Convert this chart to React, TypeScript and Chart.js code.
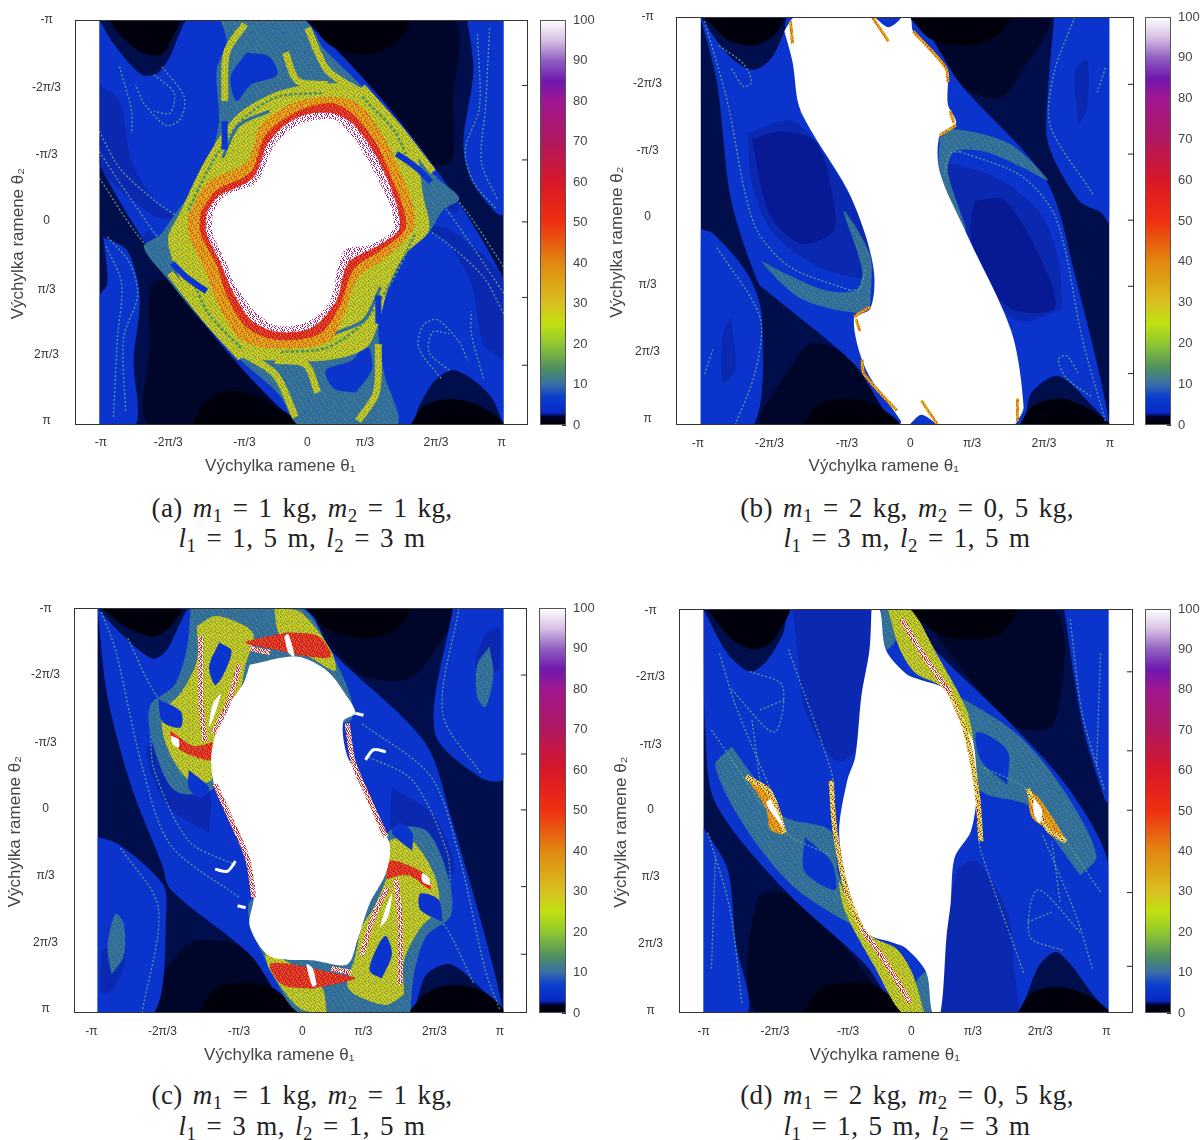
import React, { useEffect, useRef } from "react";
import { Chart, registerables } from "chart.js";
Chart.register(...registerables);

type P = number[][];
const xLabels = ["-π", "-2π/3", "-π/3", "0", "π/3", "2π/3", "π"];
const yLabels = ["-π", "-2π/3", "-π/3", "0", "π/3", "2π/3", "π"];
const colorbarTicks = [0, 10, 20, 30, 40, 50, 60, 70, 80, 90, 100];
const colorbarRange = [0, 100];
const colorStops: [number, string][] = [[0, "#000000"], [2, "#000024"], [3, "#0828c8"], [7, "#0a40cc"], [10, "#3a6ea8"], [14, "#4f9060"], [20, "#90c830"], [25, "#c0e010"], [30, "#d8c020"], [40, "#e08810"], [50, "#f03010"], [60, "#d81828"], [70, "#b01860"], [80, "#a01890"], [85, "#7018b0"], [90, "#9060c0"], [95, "#d8c0e4"], [100, "#ffffff"]];
const speckleRows = ["01020103010", "20100210302", "00310020101", "12002301020", "01030102003", "30200120100", "02010003021", "10023010200", "00120201030"];

const column: P = [[-100, -100], [100, -100], [100, 100], [-100, 100]];
const outside: P[] = [[[-120, -110], [-100, -110], [-100, 110], [-120, 110]], [[100, -110], [120, -110], [120, 110], [100, 110]]];

// ---------- panel (a) : theta1, theta2 in percent of pi
const aDark: P[] = [[[5, -100], [30, -70], [62, -30], [74, -30], [75, -60], [75, -100]], [[-5, 100], [-30, 70], [-62, 30], [-74, 30], [-75, 60], [-75, 100]]];
const aBlue: P[] = [
  [[-100, -100], [-92, -87], [-79, -73], [-71, -74], [-65, -82], [-60, -94], [-56, -100], [1, -100], [100, 28], [100, 100], [93, 85], [76, 73], [66, 78], [58, 91], [54, 100], [-1, 100], [-100, -29]],
  [[-98, 7], [-86, 14], [-80, 37], [-83, 68], [-82, 100], [-100, 100], [-100, 37], [-96, 30]],
  [[82, -100], [85, -75], [80, -39], [84, -21], [96, -5], [100, -4], [100, -100]],
];
const aMid: P[] = [
  [[-100, -68], [-90, -60], [-84, -30], [-72, -10], [-60, -2], [-74, -4], [-100, -29]],
  [[100, 68], [90, 60], [84, 30], [72, 10], [60, 2], [74, 4], [100, 29]],
  [[-76, 4], [-58, 20], [-50, 34], [-62, 24], [-78, 8]], [[76, -4], [58, -20], [50, -34], [62, -24], [78, -8]],
];
const aBlack: P[] = [
  [[-95, -100], [-90, -93], [-79, -84], [-69, -83], [-64, -91], [-61, -100]],
  [[3, -100], [15, -87], [34, -83], [47, -89], [53, -100]],
  [[-54, 100], [-48, 89], [-35, 83], [-20, 87], [-1, 100]],
  [[54, 100], [60, 91], [74, 87], [89, 91], [100, 100]],
];
const aLines: P[] = [
  [[-90, -77], [-84, -55], [-84, -44]], [[-69, -77], [-58, -62], [-60, -51], [-67, -48], [-78, -59], [-82, -68]], [[-73, -73], [-63, -64], [-65, -54], [-73, -55]],
  [[-100, -45], [-90, -27], [-73, -11], [-60, -2]], [[87, -93], [88, -57], [81, -36], [85, -20], [96, -7]], [[93, -96], [91, -57], [89, -30], [97, -11]],
  [[-87, 93], [-88, 57], [-81, 36], [-85, 20], [-96, 7]], [[-93, 96], [-91, 57], [-89, 30], [-97, 11]],
  [[90, 77], [84, 55], [84, 44]], [[69, 77], [58, 62], [60, 51], [67, 48], [78, 59], [82, 68]], [[73, 73], [63, 64], [65, 54], [73, 55]], [[100, 45], [90, 27], [73, 11], [60, 2]],
  [[66, -23], [82, -5], [100, 22]], [[-66, 23], [-82, 5], [-100, -22]], [[-100, -35], [-86, -14], [-72, 6], [-54, 28]], [[100, 35], [86, 14], [72, -6], [54, -28]],
];
const aChaos: P = [[-40, -100], [1, -100], [11, -86], [30, -67], [49, -45], [66, -23], [78, -12], [70, -6], [63, 5], [53, 14], [41, 32], [38, 53], [41, 75], [47, 100], [-1, 100], [-11, 85], [-30, 68], [-48, 50], [-67, 27], [-78, 12], [-70, 6], [-62, -5], [-50, -21], [-41, -48], [-42, -75], [-37, -89]];
const aIslands: P[] = [
  [[-27, -84], [-16, -82], [-12, -73], [-25, -68], [-32, -60], [-35, -72]],
  [[27, 84], [16, 82], [12, 73], [25, 68], [32, 60], [35, 72]],
];
const aThick: P[] = [
  [[-8, -84], [-2, -70], [13, -68]], [[3, -96], [13, -75], [30, -64]], [[-28, -98], [-37, -84], [-38, -60]],
  [[8, 84], [2, 70], [-13, 68]], [[-3, 96], [-13, 75], [-30, 64]], [[28, 98], [37, 84], [38, 60]],
  [[30, -67], [47, -48], [65, -25]], [[-30, 67], [-47, 48], [-65, 25]],
];
const aYellow: P = [[-60, -5], [-48, -30], [-33, -52], [-16, -63], [3, -68], [28, -67], [47, -50], [57, -34], [60, -14], [63, 4], [51, 16], [43, 32], [38, 50], [32, 62], [13, 68], [-16, 68], [-31, 66], [-48, 48], [-60, 28], [-66, 8]];
const aGreen: P[] = [[[-56, -6], [-44, -30], [-30, -50], [-12, -62], [10, -64]], [[56, 6], [44, 30], [30, 50], [12, 62], [-10, 64]], [[30, -62], [46, -45], [54, -28]], [[-30, 62], [-46, 45], [-54, 28]]];
const aSlits: P[] = [[[-39, -32], [-31, -48], [-16, -55]], [[39, 32], [31, 48], [16, 55]]];
const aSlots: P[] = [[[47, -34], [57, -27], [64, -20]], [[-47, 34], [-57, 27], [-64, 20]], [[-38, -50], [-38, -36]], [[38, 50], [38, 36]]];
const aOrange: P = [[-56, -4], [-46, -20], [-27, -30], [-20, -48], [-4, -59], [15, -62], [28, -59], [39, -45], [49, -25], [56, -5], [55, 4], [41, 18], [28, 27], [22, 43], [13, 59], [-16, 62], [-31, 57], [-41, 41], [-48, 23], [-56, 5]];
const aRed: P = [[-50, -5], [-42, -16], [-25, -25], [-18, -43], [-2, -55], [15, -59], [26, -53], [37, -39], [45, -21], [51, -5], [51, 4], [39, 14], [26, 23], [19, 41], [9, 55], [-12, 58], [-27, 52], [-37, 36], [-42, 21], [-50, 5]];
const aSpeck: P = [[-47, -5], [-41, -13], [-24, -22], [-16, -40], [-2, -52], [15, -54], [25, -49], [35, -36], [43, -20], [48, -5], [48, 4], [37, 12], [23, 20], [17, 39], [5, 52], [-12, 54], [-25, 48], [-35, 32], [-40, 20], [-47, 5]];
const aWhite: P = [[-44, -5], [-38, -13], [-22, -20], [-14, -37], [-2, -48], [15, -51], [23, -45], [32, -32], [40, -17], [45, -5], [45, 4], [34, 11], [21, 14], [14, 39], [3, 49], [-12, 51], [-23, 44], [-33, 30], [-38, 18], [-44, 5]];

// ---------- panel (b)
const bDark: P[] = [[[2, -100], [28, -66], [46, -60], [55, -70], [70, -100]], [[-2, 100], [-28, 66], [-46, 60], [-55, 70], [-70, 100]]];
const bBlue: P[] = [
  [[-100, -100], [-87, -82], [-75, -74], [-66, -79], [-59, -93], [-57, -100], [2, -100], [28, -66], [69, -20], [83, 26], [100, 100], [92, 91], [75, 76], [62, 84], [56, 100], [-2, 100], [-25, 70], [-68, 34], [-72, 30], [-85, -10], [-92, -68]],
  [[-100, 4], [-94, 6], [-77, 26], [-70, 47], [-74, 100], [-100, 100]],
  [[73, -100], [70, -64], [70, -38], [85, -10], [96, -4], [100, 1], [100, -100]],
];
const bMid: P[] = [
  [[-77, -43], [-55, -49], [-36, -27], [-21, 1], [-17, 27], [-28, 27], [-47, 20], [-66, 4], [-75, -19]],
  [[77, 43], [55, 49], [36, 27], [21, -1], [17, -27], [28, -27], [47, -20], [66, -4], [75, 19]],
  [[85, -47], [83, -73], [89, -79], [89, -55]], [[-85, 47], [-83, 73], [-89, 79], [-89, 55]],
];
const bDeep: P[] = [
  [[-75, -40], [-60, -44], [-43, -38], [-34, -3], [-36, 6], [-51, 11], [-66, -3]],
  [[34, -10], [49, -10], [69, 24], [73, 43], [52, 43], [36, 24], [32, 4]],
];
const bSteel: P[] = [
  [[17, -41], [24, -45], [51, -38], [70, -20], [58, -26], [39, -34], [24, -34], [21, -24], [30, 5], [17, -17]],
  [[-17, 41], [-24, 45], [-51, 38], [-70, 20], [-58, 26], [-39, 34], [-24, 34], [-21, 24], [-30, -5], [-17, 17]],
];
const bBlack: P[] = [
  [[-98, -100], [-87, -89], [-74, -86], [-64, -91], [-60, -100]], [[2, -100], [13, -89], [32, -86], [45, -91], [51, -100]],
  [[-50, 100], [-42, 90], [-28, 87], [-13, 91], [-3, 100]], [[56, 100], [62, 91], [75, 87], [88, 91], [100, 100]],
];
const bLines: P[] = [
  [[-98, -98], [-87, -59], [-74, 1], [-57, 22], [-27, 34]], [[98, 98], [87, 59], [74, -1], [57, -22], [27, -34]],
  [[-91, -86], [-79, -77], [-75, -68], [-79, -66], [-85, -75]], [[91, 86], [79, 77], [75, 68], [79, 66], [85, 75]],
  [[83, -100], [73, -73], [71, -47], [92, -13]], [[98, -75], [94, -63]], [[-83, 100], [-73, 73], [-71, 47], [-92, 13]], [[-98, 75], [-94, 63]],
  [[-27, 34], [-22, 33], [-19, 22]], [[27, -34], [22, -33], [19, -22]],
];
const bWhite: P = [[-59, -93], [-56, -98], [-54, -100], [2, -100], [4, -93], [20, -75], [21, -57], [25, -48], [17, -42], [17, -24], [30, 6], [52, 54], [58, 91], [55, 98], [53, 100], [-2, 100], [-2, 98], [-19, 73], [-25, 48], [-17, 43], [-15, 27], [-19, 8], [-28, -15], [-51, -54], [-55, -78]];
const bNotches: P[] = [[[-15, -100], [-8, -95], [-2, -100]], [[2, 100], [8, 95], [15, 100]]];
const bThick: P[] = [[[-56, -98], [-55, -87]], [[22, -54], [24, -48]], [[17, -42], [25, -47]], [[4, -93], [20, -75], [21, -68]], [[55, 98], [55, 87]], [[-22, 54], [-24, 48]], [[-17, 42], [-25, 47]], [[-4, 93], [-20, 75], [-21, 68]], [[8, 88], [16, 100]], [[-8, -88], [-16, -100]]];
const bEdges: P[] = [[[-51, -54], [-36, -33]], [[51, 54], [36, 33]], [[-12, -100], [-4, -92]], [[12, 100], [4, 92]]];

// ---------- panel (c)
const cDark: P[] = [[[2, -100], [28, -68], [50, -64], [60, -70], [75, -100]], [[-2, 100], [-28, 68], [-50, 64], [-60, 70], [-75, 100]]];
const cBlue: P[] = [
  [[-100, -100], [-87, -86], [-73, -75], [-66, -79], [-59, -93], [-54, -100], [2, -100], [15, -79], [61, -34], [74, 3], [100, 100], [89, 88], [74, 76], [62, 81], [53, 100], [-2, 100], [-25, 71], [-64, 39], [-68, 27], [-83, -11], [-95, -56]],
  [[-100, 13], [-89, 17], [-68, 36], [-66, 48], [-72, 100], [-100, 100]],
  [[75, -100], [66, -39], [89, -16], [100, -16], [100, -100]],
];
const cMid: P[] = [
  [[45, -11], [66, 3], [76, 31], [61, 27], [45, 10]], [[-45, 11], [-66, -3], [-76, -31], [-61, -27], [-45, -10]],
  [[-98, 70], [-92, 65], [-86, 72], [-92, 88], [-98, 90]], [[98, -70], [92, -65], [86, -72], [92, -88], [98, -90]],
];
const cBlack: P[] = [
  [[-98, -100], [-85, -90], [-72, -86], [-64, -91], [-59, -100]], [[2, -100], [15, -89], [34, -85], [49, -91], [53, -100]],
  [[-50, 100], [-42, 88], [-27, 85], [-13, 88], [-2, 100]], [[53, 100], [62, 90], [76, 86], [91, 90], [100, 100]],
];
const cLines: P[] = [
  [[-98, -98], [-91, -79], [-78, -22], [-64, 17], [-30, 43]], [[98, 98], [91, 79], [78, 22], [64, -17], [30, -43]],
  [[78, -100], [70, -48], [89, -18]], [[-78, 100], [-70, 48], [-89, 18]], [[-85, -85], [-73, -60], [-60, -42]], [[85, 85], [73, 60], [60, 42]],
  [[32, -27], [55, -15], [72, 20], [74, 40]], [[-32, 27], [-55, 15], [-72, -20], [-74, -40]],
];
const cSteel: P[] = [
  [[-54, -100], [0, -100], [15, -78], [25, -55], [24, -44], [-15, -40], [-44, -10], [-62, -10], [-73, -34], [-74, -52], [-62, -62], [-56, -80]],
  [[54, 100], [0, 100], [-15, 78], [-25, 55], [-24, 44], [15, 40], [44, 10], [62, 10], [73, 34], [74, 52], [62, 62], [56, 80]],
  [[93, -81], [87, -72], [87, -56], [91, -51], [95, -67]], [[-93, 81], [-87, 72], [-87, 56], [-91, 51], [-95, 67]],
];
const cYellow: P[] = [
  [[-51, -91], [-42, -96], [-27, -91], [-23, -86], [-27, -72], [-30, -58], [-36, -48], [-42, -34], [-44, -15], [-55, -15], [-66, -32], [-68, -48], [-59, -58], [-51, -74]],
  [[51, 91], [42, 96], [27, 91], [23, 86], [27, 72], [30, 58], [36, 48], [42, 34], [44, 15], [55, 15], [66, 32], [68, 48], [59, 58], [51, 74]],
  [[-13, -100], [0, -98], [15, -79], [17, -69], [4, -76], [-4, -79], [-11, -88]], [[13, 100], [0, 98], [-15, 79], [-17, 69], [-4, 76], [4, 79], [11, 88]],
];
const cIslands: P[] = [
  [[-40, -83], [-34, -79], [-38, -67], [-42, -62], [-45, -71]], [[40, 83], [34, 79], [38, 67], [42, 62], [45, 71]],
  [[-70, -55], [-59, -49], [-59, -41], [-68, -44]], [[70, 55], [59, 49], [59, 41], [68, 44]],
  [[-55, -20], [-45, -11], [-49, -6], [-55, -11]], [[55, 20], [45, 11], [49, 6], [55, 11]],
];
const cRed: P[] = [
  [[-6, -88], [9, -86], [15, -76], [4, -76], [-15, -80], [-27, -83]], [[6, 88], [-9, 86], [-15, 76], [-4, 76], [15, 80], [27, 83]],
  [[-42, -34], [-53, -32], [-64, -39], [-62, -32], [-53, -27], [-44, -25]], [[42, 34], [53, 32], [64, 39], [62, 32], [53, 27], [44, 25]],
];
const cRedLines: P[] = [
  [[-49, -86], [-49, -53], [-47, -34]], [[49, 86], [49, 53], [47, 34]], [[-30, -72], [-36, -52], [-43, -38]], [[30, 72], [36, 52], [43, 38]],
  [[-42, -13], [-34, 5], [-26, 24], [-23, 43]], [[42, 13], [34, -5], [26, -24], [23, -43]], [[-25, -80], [-15, -78]], [[25, 80], [15, 78]],
];
const cWhite: P = [[-25, -72], [-2, -76], [13, -69], [23, -56], [27, -48], [21, -44], [23, -27], [30, -15], [38, 5], [44, 17], [42, 31], [34, 46], [28, 64], [23, 76], [6, 74], [-15, 72], [-25, 57], [-23, 43], [-25, 25], [-34, 5], [-42, -11], [-44, -25], [-42, -37], [-36, -51], [-28, -63]];
const cWhiteBits: P[] = [
  [[-8, -86], [-6, -87], [-3, -76], [-6, -78]], [[8, 86], [6, 87], [3, 76], [6, 78]], [[-64, -37], [-60, -35], [-60, -31], [-63, -33]], [[64, 37], [60, 35], [60, 31], [63, 33]],
  [[-39, -58], [-42, -48], [-45, -41], [-45, -43], [-43, -53]], [[39, 58], [42, 48], [45, 41], [45, 43], [43, 53]],
];
const cCrescents: P[] = [[[32, -25], [36, -30], [42, -29]], [[-32, 25], [-36, 30], [-42, 29]], [[27, -48], [31, -47]], [[-27, 48], [-31, 47]]];

// ---------- panel (d)
const dDark: P[] = [[[5, -100], [52, -43], [73, -43], [73, -100]], [[-5, 100], [-52, 43], [-73, 43], [-73, 100]]];
const dBlue: P[] = [
  [[-100, -100], [-88, -78], [-77, -69], [-69, -74], [-61, -87], [-56, -100], [-3, -100], [16, -78], [52, -43], [81, -10], [100, 27], [100, 100], [94, 93], [75, 70], [66, 76], [58, 95], [54, 100], [-1, 100], [-20, 76], [-60, 39], [-94, -4], [-99, -39]],
  [[-100, 8], [-88, 29], [-84, 65], [-78, 100], [-100, 100]],
  [[78, -100], [87, -43], [98, -6], [100, -4], [100, -100]],
];
const dMid: P[] = [[[-56, -100], [-17, -100], [-25, -30], [-35, -25], [-50, -50], [-53, -75]], [[56, 100], [17, 100], [25, 30], [35, 25], [50, 50], [53, 75]]];
const dBlack: P[] = [
  [[-98, -100], [-86, -85], [-75, -80], [-67, -83], [-62, -90], [-58, -100]], [[1, -100], [15, -88], [32, -85], [47, -88], [54, -100]],
  [[-51, 100], [-42, 88], [-29, 85], [-14, 87], [-1, 100]], [[55, 100], [62, 90], [75, 87], [89, 91], [100, 100]],
];
const dSteel: P[] = [
  [[-86, -32], [-71, -11], [-60, 3], [-37, 10], [-33, 32], [-20, 57], [-29, 55], [-56, 37], [-78, 10], [-94, -22]],
  [[86, 32], [71, 11], [60, -3], [37, -10], [33, -32], [20, -57], [29, -55], [56, -37], [78, -10], [94, 22]],
  [[-13, -100], [-9, -100], [-5, -85], [-10, -80]], [[13, 100], [9, 100], [5, 85], [10, 80]],
];
const dPockets: P[] = [[[-50, 13], [-37, 25], [-35, 39], [-50, 30]], [[50, -13], [37, -25], [35, -39], [50, -30]]];
const dLines: P[] = [
  [[-92, -78], [-84, -52], [-67, -11]], [[-77, -69], [-61, -62], [-65, -39], [-86, -60]], [[-58, -80], [-37, -20], [-35, -6]], [[-96, -40], [-60, 10], [-37, 22]],
  [[92, 78], [84, 52], [67, 11]], [[77, 69], [61, 62], [65, 39], [86, 60]], [[58, 80], [37, 20], [35, 6]], [[96, 40], [60, -10], [37, -22]],
  [[81, -95], [87, -48], [98, -10]], [[96, -78], [94, -22]], [[-81, 95], [-87, 48], [-98, 10]], [[-96, 78], [-94, 22]],
  [[-76, -45], [-72, -15]], [[76, 45], [72, 15]], [[-72, -50], [-60, -55]], [[72, 50], [60, 55]],
];
const dYellow: P[] = [
  [[-9, -100], [2, -100], [15, -78], [30, -50], [33, -35], [27, -48], [17, -62], [5, -68], [-3, -80]],
  [[9, 100], [-2, 100], [-15, 78], [-30, 50], [-33, 35], [-27, 48], [-17, 62], [-5, 68], [3, 80]],
];
const dThick: P[] = [
  [[-37, -15], [-35, 10], [-29, 41], [-22, 58]], [[37, 15], [35, -10], [29, -41], [22, -58]],
  [[60, -11], [70, 9], [79, 15]], [[-79, -17], [-67, -9], [-60, 11]],
];
const dRedLines: P[] = [[[-2, -95], [8, -78], [22, -58]], [[2, 95], [-8, 78], [-22, 58]]];
const dChaos: P[] = [[[-79, -17], [-67, -11], [-60, 11], [-67, 9], [-69, -1]], [[60, -11], [66, -6], [79, 15], [70, 9], [62, 3]]];
const dWhite: P = [[-17, -100], [-13, -100], [-10, -80], [0, -68], [7, -65], [20, -60], [32, -39], [35, -11], [32, 10], [24, 23], [22, 46], [20, 62], [17, 100], [13, 100], [10, 80], [0, 68], [-7, 65], [-20, 60], [-29, 36], [-33, 10], [-29, -15], [-25, -27], [-22, -57], [-18, -80]];
const dWhiteBits: P[] = [[[-67, -6], [-60, 8], [-64, 4], [-69, -4]], [[63, -6], [67, -1], [66, 6], [63, 1]]];

type Layer = { k: string; pts: P };
const many = (k: string, list: P[]): Layer[] => list.map((pts) => ({ k, pts }));
const one = (k: string, pts: P): Layer => ({ k, pts });

const layersA: Layer[] = [one("N", column), ...many("V", aDark), ...many("B", aBlue), ...many("M", aMid), ...many("K", aBlack), ...many("l", aLines), one("S", aChaos), ...many("B", aIslands), ...many("tY", aThick), one("Y", aYellow), ...many("tG", aGreen), ...many("tS", aSlits), ...many("tB", aSlots), one("O", aOrange), one("R", aRed), one("P", aSpeck), one("W", aWhite), ...many("X", outside)];
const layersB: Layer[] = [one("N", column), ...many("V", bDark), ...many("B", bBlue), ...many("M", bMid), ...many("D", bDeep), ...many("S", bSteel), ...many("K", bBlack), ...many("l", bLines), ...many("tS", bEdges), one("W", bWhite), ...many("B", bNotches), ...many("tO", bThick), ...many("X", outside)];
const layersC: Layer[] = [one("N", column), ...many("V", cDark), ...many("B", cBlue), ...many("M", cMid), ...many("K", cBlack), ...many("l", cLines), ...many("S", cSteel), ...many("Y", cYellow), ...many("B", cIslands), ...many("R", cRed), one("W", cWhite), ...many("tR", cRedLines), ...many("W", cWhiteBits), ...many("tW", cCrescents), ...many("X", outside)];
const layersD: Layer[] = [one("N", column), ...many("V", dDark), ...many("B", dBlue), ...many("M", dMid), ...many("K", dBlack), ...many("S", dSteel), ...many("B", dPockets), ...many("l", dLines), ...many("O", dChaos), one("W", dWhite), ...many("Y", dYellow), ...many("tR", dRedLines), ...many("tY2", dThick), ...many("W", dWhiteBits), ...many("X", outside)];

const panels = [
  { id: "a", layers: layersA, x0: 0, L: 75, R: 527, T: 20, B: 424, cbL: 540, cbR: 565, xLim: 112, titleX: 18, tickPad: 10, xH: 52, capX: 302, capY: [508, 538],
    xTicks: [-99.2, -65.9, -28.2, 2.9, 31.4, 66.5, 99], yTicks: [-100, -66.5, -33.5, -1, 33, 65.4, 97.8], rightTicks: [-67.7, -30.9, -0.3, 37, 70.5],
    cap1: ["(a) ", "1", "1 kg", "2", "1 kg"], cap2: ["1", "1, 5 m", "2", "3 m"] },
  { id: "b", layers: layersB, x0: 600, L: 676, R: 1133, T: 17, B: 424, cbL: 1145, cbR: 1170, xLim: 112, titleX: 617, tickPad: 11, xH: 52, capX: 907, capY: [508, 538],
    xTicks: [-101.3, -66.3, -28.4, 2.6, 32.8, 68, 100.2], yTicks: [-100, -67.4, -34.7, -2, 31.2, 64, 97], rightTicks: [-67, -32.8, -0.4, 32, 74.8],
    cap1: ["(b) ", "1", "2 kg", "2", "0, 5 kg"], cap2: ["1", "3 m", "2", "1, 5 m"] },
  { id: "c", layers: layersC, x0: 0, L: 74, R: 526, T: 608, B: 1012, cbL: 539, cbR: 565, xLim: 111.5, titleX: 15, tickPad: 11, xH: 53, capX: 302, capY: [1095, 1126],
    xTicks: [-103, -68, -30.3, 0.9, 30.9, 65.9, 98.1], yTicks: [-99.7, -67, -33.4, -1, 32, 65.5, 98], rightTicks: [-66.9, -27.9, -0.3, 37.6, 71],
    cap1: ["(c) ", "1", "1 kg", "2", "1 kg"], cap2: ["1", "3 m", "2", "1, 5 m"] },
  { id: "d", layers: layersD, x0: 600, L: 679, R: 1132, T: 609, B: 1012, cbL: 1145, cbR: 1170, xLim: 112, titleX: 621, tickPad: 11, xH: 53, capX: 907, capY: [1095, 1126],
    xTicks: [-99.8, -64.7, -28.6, 2.6, 33, 66.2, 98.9], yTicks: [-99.4, -66.5, -33, -0.6, 32.6, 65.8, 99], rightTicks: [-68.9, -29.8, -0.4, 40.4, 76.9],
    cap1: ["(d) ", "1", "2 kg", "2", "0, 5 kg"], cap2: ["1", "1, 5 m", "2", "3 m"] },
];

const SANS = "'Liberation Sans', Arial, sans-serif";
const framePlugin = (color: string) => ({
  id: "frame",
  afterDraw(chart: any) {
    const { ctx, chartArea: a } = chart;
    ctx.save();
    ctx.strokeStyle = color;
    ctx.lineWidth = 1;
    ctx.strokeRect(Math.round(a.left) + 0.5, Math.round(a.top) + 0.5, Math.round(a.right - a.left) - 1, Math.round(a.bottom - a.top) - 1);
    ctx.restore();
  },
});

function tile(colors: string[]) {
  const c = document.createElement("canvas");
  c.width = speckleRows[0].length;
  c.height = speckleRows.length;
  const g = c.getContext("2d")!;
  speckleRows.forEach((row, y) => [...row].forEach((ch, x) => {
    g.fillStyle = colors[+ch];
    g.fillRect(x, y, 1, 1);
  }));
  return g.createPattern(c, "repeat")!;
}

function styles() {
  const Y = tile(["#c2cc20", "#5f9a58", "#e0b010", "#d8dc20"]);
  const O = tile(["#e09010", "#d8c020", "#e04020", "#c8d020"]);
  const R = tile(["#e02020", "#e08010", "#c01850", "#e04010"]);
  const RW = tile(["#ffffff", "#c01850", "#e02020", "#e08010"]);
  const Y2 = tile(["#d0d020", "#ffffff", "#c01850", "#e09010"]);
  const P2 = tile(["#ffffff", "#a01880", "#ffffff", "#c02060"]);
  const S = tile(["#2f6aa0", "#2f6aa0", "#4c8a70", "#2f6aa0"]);
  const fill = (c: any) => ({ fill: "shape", backgroundColor: c, borderWidth: 0, borderColor: "transparent" });
  const stroke = (c: any, w: number, dash: number[] = []) => ({ fill: false, borderColor: c, borderWidth: w, borderDash: dash, backgroundColor: "transparent" });
  return {
    N: fill("#000f4c"), V: fill("#00062a"), K: fill("#00000c"), B: fill("#0a34cc"), M: fill("#0a28b0"), D: fill("#071a94"),
    S: fill(S), Y: fill(Y), O: fill(O), R: fill(R), P: fill(P2), W: fill("#ffffff"), X: fill("#ffffff"),
    l: stroke("#5f9a90", 1.3, [2, 2]), tY: stroke(Y, 7), tY2: stroke(Y2, 5), tO: stroke(O, 3), tR: stroke(RW, 5), tS: stroke("#2f6aa0", 3), tB: stroke("#0a34cc", 6), tW: stroke("#ffffff", 3), tG: stroke("#4f8f60", 2.5, [3, 2]),
  } as Record<string, any>;
}

function HeatChart({ p }: { p: (typeof panels)[number] }) {
  const ref = useRef<HTMLCanvasElement>(null);
  const top = p.T - 14;
  const width = p.R + 1 - p.x0;
  const height = p.B + 1 - top + p.xH;
  useEffect(() => {
    const st = styles();
    const polys = p.layers.map((l) => ({
      type: "scatter", showLine: true, tension: l.k === "N" || l.k === "X" ? 0 : 0.3, pointRadius: 0,
      data: (l.k === "l" || l.k[0] === "t" ? l.pts : [...l.pts, l.pts[0]]).map(([x, y]) => ({ x, y })),
      ...st[l.k],
    }));
    const tickMarks = {
      type: "scatter", showLine: false, pointStyle: "line", pointRadius: 3, pointBorderColor: "#222", pointBorderWidth: 1,
      data: p.rightTicks.map((y) => ({ x: p.xLim - 1.5, y })),
    };
    const chart = new Chart(ref.current!, {
      type: "scatter",
      data: { datasets: [tickMarks, ...polys.reverse()] as any },
      plugins: [framePlugin("#333")],
      options: {
        animation: false, responsive: false, events: [],
        layout: { autoPadding: false, padding: { top: 14, right: 0, left: 0, bottom: 0 } },
        plugins: { legend: { display: false }, tooltip: { enabled: false } },
        scales: {
          x: {
            type: "linear", min: -p.xLim, max: p.xLim, grid: { display: false, drawTicks: false }, border: { display: false },
            afterFit: (s: any) => { s.height = p.xH; s.paddingLeft = 0; s.paddingRight = 0; },
            afterBuildTicks: (s: any) => { s.ticks = p.xTicks.map((value) => ({ value })); },
            ticks: { autoSkip: false, maxRotation: 0, padding: p.tickPad, color: "#333", font: { family: SANS, size: 12 }, callback: (_v: any, i: number) => xLabels[i] },
            title: { display: true, text: "Výchylka ramene θ₁" + "\u00a0".repeat(9), color: "#444", padding: 0, font: { family: SANS, size: 17 } },
          },
          y: {
            type: "linear", min: -100, max: 100, reverse: true, grid: { display: false, drawTicks: false }, border: { display: false },
            afterFit: (s: any) => { s.width = p.L - p.x0; s.paddingTop = 0; s.paddingBottom = 0; },
            afterBuildTicks: (s: any) => { s.ticks = p.yTicks.map((value) => ({ value })); },
            ticks: { autoSkip: false, crossAlign: "center", padding: 14, color: "#333", font: { family: SANS, size: 12 }, callback: (_v: any, i: number) => yLabels[i] },
            title: { display: true, text: "Výchylka ramene θ₂" + "\u00a0".repeat(9), color: "#444", padding: { top: p.titleX - p.x0 - 10, bottom: 0 }, font: { family: SANS, size: 17 } },
          },
        },
      } as any,
    });
    return () => chart.destroy();
  }, [p]);
  return <canvas ref={ref} width={width} height={height} style={{ position: "absolute", left: p.x0, top, width, height }} />;
}

function ColorBar({ p }: { p: (typeof panels)[number] }) {
  const ref = useRef<HTMLCanvasElement>(null);
  const pad = 12;
  const top = p.T - pad;
  const barW = p.cbR - p.cbL + 1;
  const width = barW + 40;
  const height = p.B - p.T + 1 + 2 * pad;
  useEffect(() => {
    const ctx = ref.current!.getContext("2d")!;
    const grad = ctx.createLinearGradient(0, height - pad, 0, pad);
    colorStops.forEach(([v, c]) => grad.addColorStop(v / 100, c));
    const chart = new Chart(ref.current!, {
      type: "bar",
      data: { labels: [""], datasets: [{ data: [colorbarRange], backgroundColor: grad, barPercentage: 1, categoryPercentage: 1, borderWidth: 0 }] as any },
      plugins: [framePlugin("#555")],
      options: {
        animation: false, responsive: false, events: [],
        layout: { autoPadding: false, padding: { top: pad, bottom: pad, left: 0, right: 0 } },
        plugins: { legend: { display: false }, tooltip: { enabled: false } },
        scales: {
          x: { display: false },
          y: {
            position: "right", min: 0, max: 100, border: { display: false },
            grid: { drawOnChartArea: false, drawTicks: true, tickLength: -4, tickColor: "#333" },
            afterFit: (s: any) => { s.width = 40; s.paddingTop = 0; s.paddingBottom = 0; },
            afterBuildTicks: (s: any) => { s.ticks = colorbarTicks.map((value) => ({ value })); },
            ticks: { padding: 11, color: "#444", font: { family: SANS, size: 13 } },
          },
        },
      } as any,
    });
    return () => chart.destroy();
  }, [p]);
  return <canvas ref={ref} width={width} height={height} style={{ position: "absolute", left: p.cbL, top, width, height }} />;
}

const capLine: React.CSSProperties = { position: "absolute", width: 460, textAlign: "center", fontFamily: "'Liberation Serif', serif", fontSize: 27, letterSpacing: 0.4, wordSpacing: 3, lineHeight: "30px", color: "#222", whiteSpace: "pre" };
const Sub = ({ t }: { t: string }) => <sub style={{ fontSize: "70%", lineHeight: 0, verticalAlign: "-0.25em" }}>{t}</sub>;

function Caption({ p }: { p: (typeof panels)[number] }) {
  const [tag, a1, v1, a2, v2] = p.cap1;
  const [b1, w1, b2, w2] = p.cap2;
  return (
    <>
      <div style={{ ...capLine, left: p.capX - 230, top: p.capY[0] - 15 }}>
        {tag}<i>m</i><Sub t={a1} /> = {v1}, <i>m</i><Sub t={a2} /> = {v2},
      </div>
      <div style={{ ...capLine, left: p.capX - 230, top: p.capY[1] - 15 }}>
        <i>l</i><Sub t={b1} /> = {w1}, <i>l</i><Sub t={b2} /> = {w2}
      </div>
    </>
  );
}

export default function App() {
  return (
    <div style={{ position: "absolute", left: 0, top: 0, width: 1200, height: 1140, background: "#fff", overflow: "hidden" }}>
      {panels.map((p) => (
        <React.Fragment key={p.id}>
          <HeatChart p={p} />
          <ColorBar p={p} />
          <Caption p={p} />
        </React.Fragment>
      ))}
    </div>
  );
}
